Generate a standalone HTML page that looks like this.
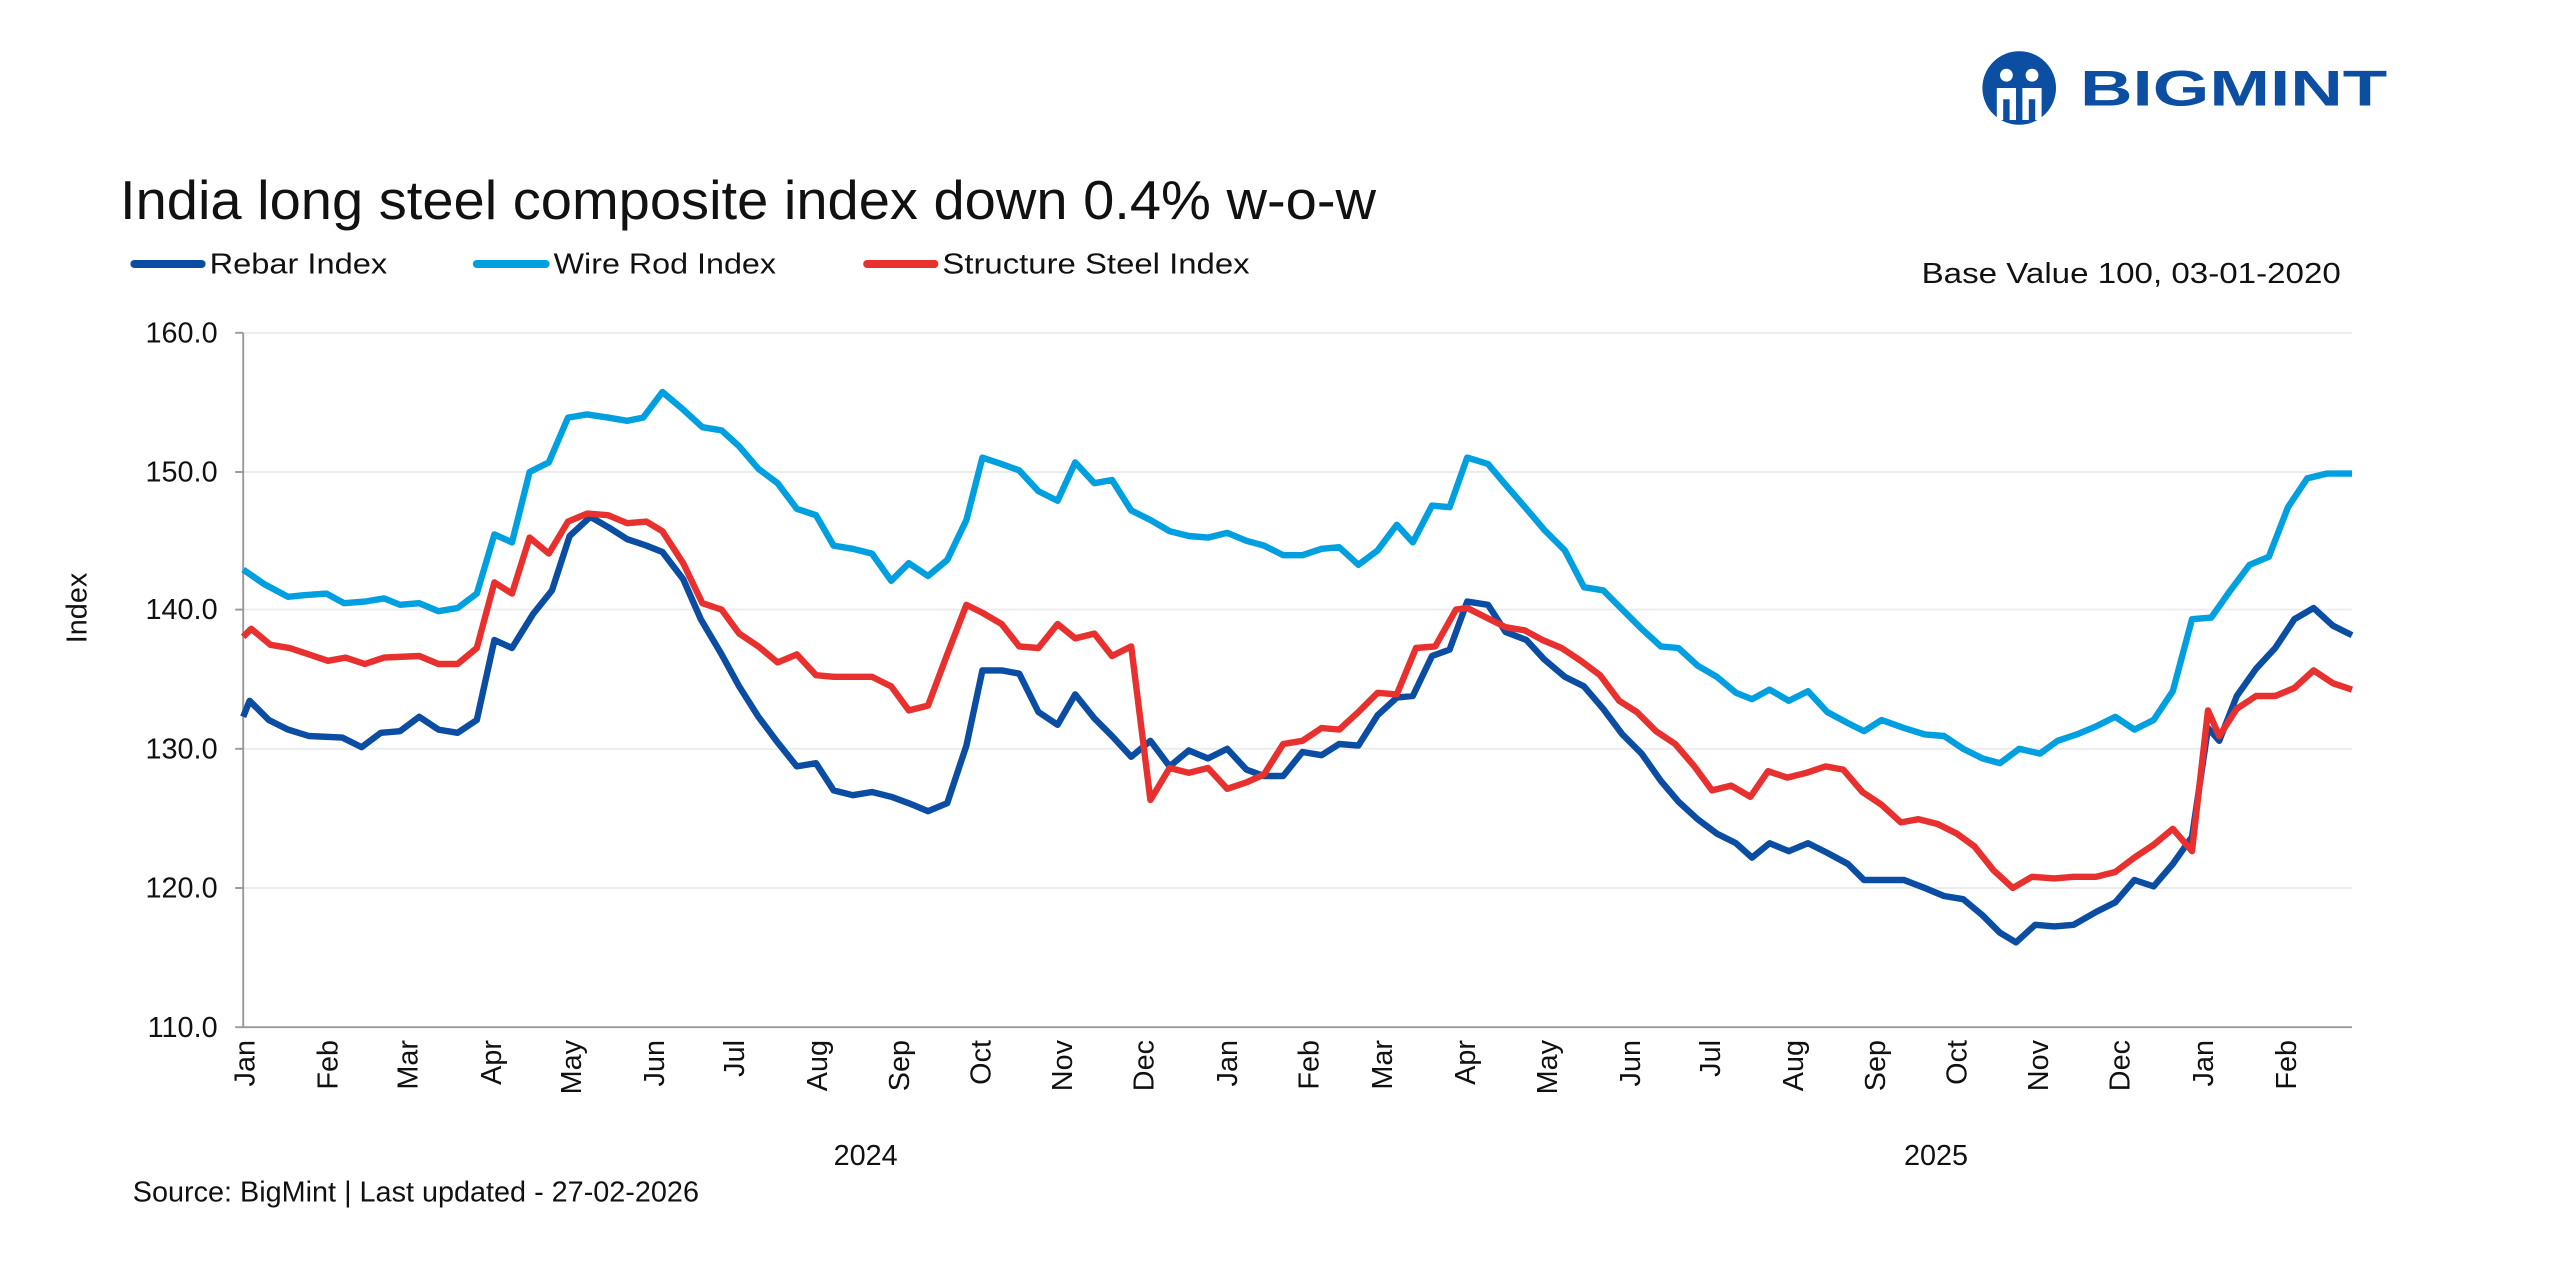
<!DOCTYPE html>
<html><head><meta charset="utf-8"><style>
html,body{margin:0;padding:0;background:#fff;}
svg{display:block;font-family:"Liberation Sans",sans-serif;}
</style></head><body>
<svg width="2560" height="1280" viewBox="0 0 1600 800" xmlns="http://www.w3.org/2000/svg">
<rect width="1600" height="800" fill="#fff"/>
<g fill="#0B4EA2">
<circle cx="1262" cy="55" r="23"/>
<circle cx="1254" cy="47" r="4" fill="#fff"/><circle cx="1270" cy="47" r="4" fill="#fff"/>
<path d="M1248 55 h12 v20 h-4 v-13 h-4 v13 h-4z M1264 55 h12 v20 h-4 v-13 h-4 v13 h-4z" fill="#fff"/>
<text x="1300" y="66" font-size="31" font-weight="bold" textLength="192" lengthAdjust="spacingAndGlyphs">BIGMINT</text>
</g>
<text x="75" y="137" font-size="34" fill="#111" textLength="785" lengthAdjust="spacingAndGlyphs">India long steel composite index down 0.4% w-o-w</text>
<g font-size="18" fill="#111">
<line x1="84" y1="165" x2="126" y2="165" stroke="#0A4DA2" stroke-width="5" stroke-linecap="round"/>
<text x="131" y="171" textLength="111" lengthAdjust="spacingAndGlyphs">Rebar Index</text>
<line x1="298" y1="165" x2="341" y2="165" stroke="#00A0E0" stroke-width="5" stroke-linecap="round"/>
<text x="346" y="171" textLength="139" lengthAdjust="spacingAndGlyphs">Wire Rod Index</text>
<line x1="542" y1="165" x2="584" y2="165" stroke="#E8312F" stroke-width="5" stroke-linecap="round"/>
<text x="589" y="171" textLength="192" lengthAdjust="spacingAndGlyphs">Structure Steel Index</text>
<text x="1463" y="177" text-anchor="end" textLength="262" lengthAdjust="spacingAndGlyphs">Base Value 100, 03-01-2020</text>
</g>
<g stroke="#ececec" stroke-width="1.2">
<line x1="152" y1="208" x2="1470" y2="208"/><line x1="152" y1="295" x2="1470" y2="295"/>
<line x1="152" y1="381" x2="1470" y2="381"/><line x1="152" y1="468" x2="1470" y2="468"/>
<line x1="152" y1="555" x2="1470" y2="555"/>
</g>
<g stroke="#999" stroke-width="1.2">
<line x1="152" y1="208" x2="152" y2="642"/><line x1="152" y1="642" x2="1470" y2="642"/>
<line x1="147" y1="208" x2="152" y2="208"/><line x1="147" y1="295" x2="152" y2="295"/><line x1="147" y1="381" x2="152" y2="381"/><line x1="147" y1="468" x2="152" y2="468"/><line x1="147" y1="555" x2="152" y2="555"/><line x1="147" y1="642" x2="152" y2="642"/>
</g>
<g font-size="18" fill="#111" text-anchor="end">
<text x="136" y="214">160.0</text><text x="136" y="301">150.0</text><text x="136" y="387">140.0</text><text x="136" y="474">130.0</text><text x="136" y="561">120.0</text><text x="136" y="648">110.0</text>
</g>
<text transform="translate(54,380) rotate(-90)" font-size="18" fill="#111" text-anchor="middle">Index</text>
<g font-size="18" fill="#111" text-anchor="end">
<text transform="translate(159,650) rotate(-90)">Jan</text>
<text transform="translate(211,650) rotate(-90)">Feb</text>
<text transform="translate(261,650) rotate(-90)">Mar</text>
<text transform="translate(313,650) rotate(-90)">Apr</text>
<text transform="translate(363,650) rotate(-90)">May</text>
<text transform="translate(415,650) rotate(-90)">Jun</text>
<text transform="translate(465,650) rotate(-90)">Jul</text>
<text transform="translate(517,650) rotate(-90)">Aug</text>
<text transform="translate(568,650) rotate(-90)">Sep</text>
<text transform="translate(619,650) rotate(-90)">Oct</text>
<text transform="translate(670,650) rotate(-90)">Nov</text>
<text transform="translate(721,650) rotate(-90)">Dec</text>
<text transform="translate(773,650) rotate(-90)">Jan</text>
<text transform="translate(824,650) rotate(-90)">Feb</text>
<text transform="translate(870,650) rotate(-90)">Mar</text>
<text transform="translate(922,650) rotate(-90)">Apr</text>
<text transform="translate(973,650) rotate(-90)">May</text>
<text transform="translate(1025,650) rotate(-90)">Jun</text>
<text transform="translate(1075,650) rotate(-90)">Jul</text>
<text transform="translate(1127,650) rotate(-90)">Aug</text>
<text transform="translate(1178,650) rotate(-90)">Sep</text>
<text transform="translate(1229,650) rotate(-90)">Oct</text>
<text transform="translate(1280,650) rotate(-90)">Nov</text>
<text transform="translate(1331,650) rotate(-90)">Dec</text>
<text transform="translate(1383,650) rotate(-90)">Jan</text>
<text transform="translate(1435,650) rotate(-90)">Feb</text>
</g>
<g font-size="18" fill="#111" text-anchor="middle">
<text x="541" y="728">2024</text><text x="1210" y="728">2025</text>
</g>
<text x="83" y="751" font-size="18" fill="#111">Source: BigMint | Last updated - 27-02-2026</text>
<g fill="none" stroke-width="4" stroke-linejoin="round">
<polyline stroke="#00A0E0" points="152,356 165,365 180,373 190,372 204,371 215,377 228,376 240,374 250,378 262,377 274,382 286,380 298,371 309,334 320,339 331,295 343,289 355,261 367,259 380,261 392,263 402,261 414,245 427,256 439,267 451,269 462,279 474,293 486,302 498,318 510,322 521,341 533,343 545,346 557,363 568,352 580,360 592,350 604,325 614,286 626,290 637,294 649,307 661,313 672,289 684,302 695,300 707,319 719,325 731,332 743,335 755,336 767,333 779,338 790,341 802,347 814,347 826,343 837,342 849,353 861,344 873,328 883,339 895,316 906,317 917,286 930,290 941,303 954,318 965,331 978,344 990,367 1002,369 1014,381 1026,393 1038,404 1049,405 1061,416 1073,423 1085,433 1095,437 1106,431 1118,438 1130,432 1142,445 1155,452 1165,457 1176,450 1190,455 1203,459 1215,460 1227,468 1239,474 1250,477 1262,468 1275,471 1286,463 1298,459 1310,454 1322,448 1334,456 1346,450 1358,432 1370,387 1382,386 1394,369 1406,353 1418,348 1430,317 1442,299 1454,296 1470,296"/>
<polyline stroke="#0A4DA2" points="152,448 156,438 168,450 180,456 193,460 214,461 226,467 238,458 250,457 262,448 274,456 286,458 298,450 309,400 320,405 333,384 345,369 356,335 369,323 381,330 392,337 404,341 414,345 427,362 438,387 451,409 462,429 474,448 486,464 498,479 510,477 521,494 533,497 545,495 557,498 568,502 580,507 592,502 604,466 614,419 626,419 637,421 649,445 661,453 672,434 684,449 695,460 707,473 719,463 731,479 743,469 755,474 767,468 779,481 790,485 802,485 814,470 826,472 837,465 849,466 861,447 873,436 883,435 895,410 906,406 917,376 930,378 941,395 954,400 965,412 978,423 990,429 1002,443 1014,459 1026,471 1038,488 1049,501 1061,512 1073,521 1085,527 1095,536 1106,527 1118,532 1130,527 1142,533 1155,540 1165,550 1190,550 1203,555 1215,560 1227,562 1239,572 1250,583 1260,589 1272,578 1284,579 1296,578 1310,570 1322,564 1334,550 1346,554 1358,540 1370,523 1380,455 1387,463 1398,435 1410,418 1422,405 1434,387 1446,380 1458,391 1470,397"/>
<polyline stroke="#E8312F" points="152,398 157,393 169,403 181,405 193,409 205,413 216,411 228,415 240,411 262,410 274,415 286,415 298,405 309,364 320,371 331,336 343,346 355,326 367,321 380,322 392,327 404,326 414,332 427,352 439,377 451,381 462,396 474,404 486,414 498,409 510,422 521,423 545,423 557,429 568,444 580,441 592,409 604,378 614,383 626,390 637,404 649,405 661,390 672,399 684,396 695,410 707,404 719,500 731,480 743,483 755,480 767,493 779,489 790,484 802,465 814,463 826,455 837,456 849,445 861,433 873,434 885,405 897,404 910,381 917,380 929,386 941,392 953,394 964,400 976,405 988,413 1000,422 1012,438 1023,445 1035,457 1047,465 1059,479 1070,494 1082,491 1094,498 1105,482 1117,486 1129,483 1141,479 1152,481 1164,495 1176,503 1188,514 1199,512 1211,515 1223,521 1234,529 1246,544 1258,555 1270,548 1284,549 1296,548 1310,548 1322,545 1334,536 1346,528 1358,518 1370,532 1380,444 1387,460 1398,443 1410,435 1422,435 1434,430 1446,419 1458,427 1470,431"/>
</g>
</svg>
</body></html>
